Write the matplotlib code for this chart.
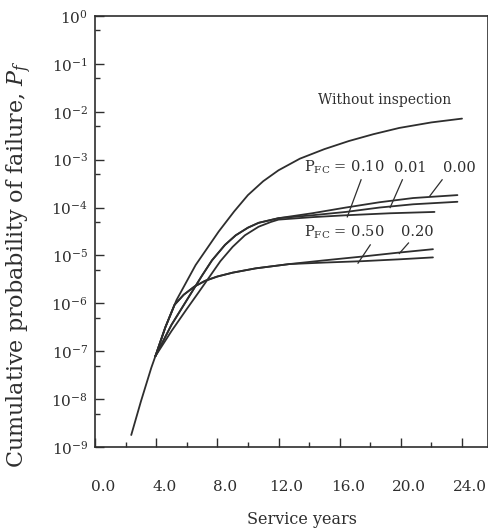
import matplotlib
matplotlib.use("Agg")
import matplotlib.pyplot as plt
import matplotlib.ticker as mticker
import matplotlib.transforms as mtransforms

plt.rcParams['font.family'] = ['DejaVu Serif']
plt.rcParams['mathtext.fontset'] = 'dejavuserif'

INK = '#2e2e2e'

# ---- data ----
years_without = [2.37, 3.0, 3.68, 3.95, 4.6, 5.33, 6.58, 8.09, 9.1, 10.0, 11.0,
                 12.0, 13.4, 15.0, 16.6, 18.2, 19.9, 22.0, 24.0]
pf_without = [1.78e-9, 8.9e-9, 4.5e-8, 7.9e-8, 3.16e-7, 1.17e-6, 6.3e-6, 3.16e-5,
              8.3e-5, 1.82e-4, 3.55e-4, 6.0e-4, 1.05e-3, 1.66e-3, 2.45e-3, 3.4e-3,
              4.6e-3, 6.0e-3, 7.2e-3]

years_pfc000 = [3.95, 5.0, 6.3, 7.0, 7.65, 8.5, 9.2, 10.0, 10.7, 12.0,
                14.2, 16.4, 18.6, 20.8, 23.7]
pf_pfc000 = [7.9e-8, 3.55e-7, 1.66e-6, 3.8e-6, 7.9e-6, 1.66e-5, 2.63e-5, 3.8e-5,
             4.8e-5, 6.0e-5, 7.6e-5, 1.0e-4, 1.29e-4, 1.58e-4, 1.82e-4]

years_pfc001 = [3.95, 5.0, 6.3, 7.0, 7.65, 8.5, 9.2, 10.0, 10.7, 12.0,
                14.2, 16.4, 18.6, 20.8, 23.7]
pf_pfc001 = [7.9e-8, 3.55e-7, 1.66e-6, 3.8e-6, 7.9e-6, 1.66e-5, 2.63e-5, 3.8e-5,
             4.8e-5, 6.0e-5, 6.9e-5, 8.1e-5, 1.0e-4, 1.17e-4, 1.32e-4]

years_pfc010 = [3.95, 5.0, 6.0, 6.8, 7.5, 8.2, 9.0, 9.8, 10.7, 11.5, 12.0,
                14.2, 16.4, 19.3, 22.2]
pf_pfc010 = [7.9e-8, 2.63e-7, 7.6e-7, 1.74e-6, 3.63e-6, 7.6e-6, 1.51e-5, 2.63e-5,
             3.98e-5, 5.0e-5, 5.6e-5, 6.3e-5, 6.9e-5, 7.6e-5, 8.1e-5]

years_pfc020 = [3.95, 4.6, 5.2, 5.8, 6.5, 7.2, 8.0, 9.0, 10.5, 12.7,
                15.0, 17.5, 19.9, 22.1]
pf_pfc020 = [7.9e-8, 3.16e-7, 9.3e-7, 1.51e-6, 2.24e-6, 2.95e-6, 3.63e-6, 4.37e-6,
             5.37e-6, 6.6e-6, 7.9e-6, 9.5e-6, 1.15e-5, 1.35e-5]

years_pfc050 = [3.95, 4.6, 5.2, 5.8, 6.5, 7.2, 8.0, 9.0, 10.5, 12.7,
                15.0, 17.5, 19.9, 22.1]
pf_pfc050 = [7.9e-8, 3.16e-7, 9.3e-7, 1.51e-6, 2.24e-6, 2.95e-6, 3.63e-6, 4.37e-6,
             5.37e-6, 6.6e-6, 7.1e-6, 7.6e-6, 8.3e-6, 9.1e-6]

x_ticks = [0, 4, 8, 12, 16, 20, 24]
x_ticklabels = ['0.0', '4.0', '8.0', '12.0', '16.0', '20.0', '24.0']

# ---- figure ----
fig = plt.figure(figsize=(4.89, 5.30), dpi=100)
ax = fig.add_axes([95/489, 1 - 447/530, (488 - 95)/489, (447 - 16)/530])

lw = 1.3
for xs, ys in [(years_without, pf_without), (years_pfc000, pf_pfc000),
               (years_pfc001, pf_pfc001), (years_pfc010, pf_pfc010),
               (years_pfc020, pf_pfc020), (years_pfc050, pf_pfc050)]:
    ax.plot(xs, ys, color=INK, lw=lw, solid_capstyle='round',
            solid_joinstyle='round')

ax.set_yscale('log')
ax.set_ylim(1e-9, 1)
ax.set_xlim(0, 25.7)

ax.yaxis.set_major_locator(mticker.LogLocator(base=10, numticks=20))
ax.yaxis.set_minor_locator(mticker.LogLocator(base=10, subs=[5], numticks=20))
ax.yaxis.set_minor_formatter(mticker.NullFormatter())
ax.set_xticks(x_ticks)
ax.set_xticklabels(x_ticklabels)
ax.xaxis.set_minor_locator(mticker.FixedLocator([2, 6, 10, 14, 18, 22]))

ax.tick_params(axis='both', which='major', direction='in', length=6.5, width=1.0,
               color=INK, labelcolor=INK, labelsize=11)
ax.tick_params(axis='both', which='minor', direction='in', length=3.5, width=1.0,
               color=INK)
ax.tick_params(axis='x', which='major', pad=24)
ax.tick_params(axis='y', which='major', pad=5)

offset = mtransforms.ScaledTranslation(8/100, 0, fig.dpi_scale_trans)
for lab in ax.get_xticklabels():
    lab.set_transform(lab.get_transform() + offset)

for s in ax.spines.values():
    s.set_color(INK)
    s.set_linewidth(1.2)

fig.text(19/489, 1 - 264/530, 'Cumulative probability of failure, $P_f$',
         rotation=90, ha='center', va='center', fontsize=16, color=INK)
fig.text(302/489, 1 - 519/530, 'Service years', ha='center', va='center',
         fontsize=11.5, color=INK)

# curve labels
ax.text(18.95, 1.8e-2, 'Without inspection', ha='center', va='center',
        fontsize=10, color=INK)
ax.text(13.7, 6.8e-4, r'P$_{\mathrm{FC}}$ = 0.10', ha='left', va='center',
        fontsize=10.5, color=INK)
ax.text(20.6, 6.8e-4, '0.01', ha='center', va='center', fontsize=10.5, color=INK)
ax.text(23.8, 6.8e-4, '0.00', ha='center', va='center', fontsize=10.5, color=INK)
ax.text(13.7, 3.1e-5, r'P$_{\mathrm{FC}}$ = 0.50', ha='left', va='center',
        fontsize=10.5, color=INK)
ax.text(21.1, 3.1e-5, '0.20', ha='center', va='center', fontsize=10.5, color=INK)

leaders = [((17.4, 3.8e-4), (16.5, 6.4e-5)),
           ((20.1, 3.8e-4), (19.3, 1.0e-4)),
           ((22.7, 3.8e-4), (21.9, 1.75e-4)),
           ((18.0, 1.66e-5), (17.2, 6.9e-6)),
           ((20.5, 1.82e-5), (19.9, 1.1e-5))]
for (x0, y0), (x1, y1) in leaders:
    ax.plot([x0, x1], [y0, y1], color=INK, lw=0.9)

fig.savefig('out.png', dpi=100, facecolor='white')
